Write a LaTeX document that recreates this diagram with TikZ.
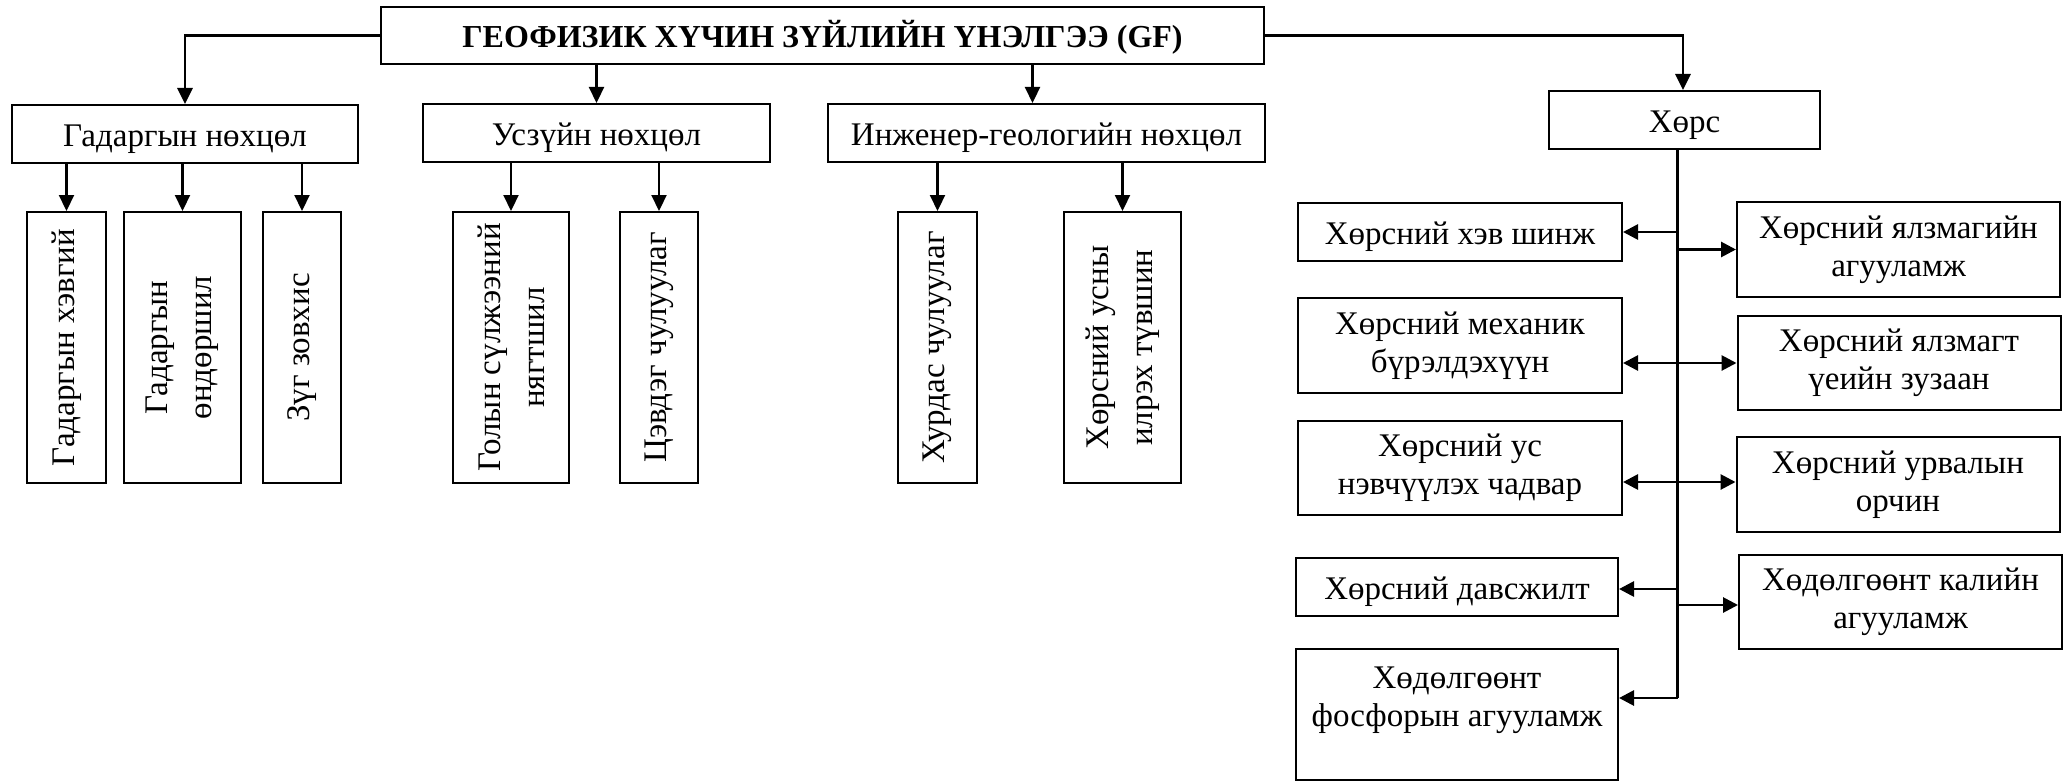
\documentclass[tikz,border=0pt]{standalone}
\usepackage{fontspec}
\setmainfont{Liberation Serif}
\usetikzlibrary{arrows.meta,calc}
\begin{document}
\begin{tikzpicture}[x=0.5pt,y=-0.5pt,
  box/.style={draw,line width=1pt,inner sep=0pt,align=center,font=\fontsize{16.5}{19}\selectfont},
  one/.style={text height=12.4pt,text depth=0pt},
  vbox/.style={draw,line width=1pt,inner sep=0pt,minimum height=135.5pt},
  vtext/.style={rotate=90,align=center,font=\fontsize{16.5}{22}\selectfont},
  ptext/.style={align=center,font=\fontsize{16.5}{19}\selectfont},
  arr/.style={line width=1.1pt,-{Triangle[length=8pt,width=7.5pt]}},
  sarr/.style={line width=1.4pt,-{Triangle[length=7.5pt,width=7.5pt]}},
  tarr/.style={line width=1.4pt,-{Triangle[length=8pt,width=7.5pt]}}]

\useasboundingbox (0,0) rectangle (2071,781);

% title
\node[box,one,minimum width=441.5pt,minimum height=28.5pt,font=\bfseries\fontsize{16}{19}\selectfont] (title) at (822.5,35.5) {ГЕОФИЗИК ХҮЧИН ЗҮЙЛИЙН ҮНЭЛГЭЭ (GF)};

% level 1
\node[box,one,minimum width=173pt,minimum height=29pt] (g) at (185,134) {Гадаргын нөхцөл};
\node[box,one,minimum width=173.5pt,minimum height=29pt] (u) at (596.5,133) {Усзүйн нөхцөл};
\node[box,one,minimum width=218.5pt,minimum height=29pt] (i) at (1046.5,133) {Инженер-геологийн нөхцөл};
\node[box,one,minimum width=135.5pt,minimum height=29pt] (x) at (1684.5,120) {Хөрс};

% title connectors
\draw[tarr] (title.west) -| (g.north);
\draw[arr] (u.north |- title.south) -- (u.north);
\coordinate (ia) at ([xshift=-7pt]i.north);
\draw[arr] (ia |- title.south) -- (ia);
\draw[tarr] (title.east) -| ([xshift=-0.75pt]x.north);

% vertical boxes
\node[vbox,minimum width=39.5pt] (a1) at (66.5,347.5) {};
\node[vtext] (a1t) at (a1) {Гадаргын хэвгий};
\node[vbox,minimum width=58.5pt] (a2) at (182.5,347.5) {};
\node[vtext] (a2t) at (a2) {Гадаргын\\өндөршил};
\node[vbox,minimum width=39pt] (a3) at (302,347.5) {};
\node[vtext] (a3t) at (a3) {Зүг зовхис};

\node[vbox,minimum width=58pt] (b1) at (511,347.5) {};
\node[vtext] (b1t) at (b1) {Голын сүлжээний\\нягтшил};
\node[vbox,minimum width=39pt] (b2) at (659,347.5) {};
\node[vtext] (b2t) at (b2) {Цэвдэг чулуулаг};

\node[vbox,minimum width=39.5pt] (c1) at (937.5,347.5) {};
\node[vtext] (c1t) at (c1) {Хурдас чулуулаг};
\node[vbox,minimum width=58.5pt] (c2) at (1122.5,347.5) {};
\node[vtext] (c2t) at (c2) {Хөрсний усны\\илрэх түвшин};

\draw[arr] (a1.north |- g.south) -- (a1.north);
\draw[arr] (a2.north |- g.south) -- (a2.north);
\draw[arr] (a3.north |- g.south) -- (a3.north);
\draw[arr] (b1.north |- u.south) -- (b1.north);
\draw[arr] (b2.north |- u.south) -- (b2.north);
\draw[arr] (c1.north |- i.south) -- (c1.north);
\draw[arr] (c2.north |- i.south) -- (c2.north);

% soil branch
\node[box,one,minimum width=162pt,minimum height=29pt] (r1) at (1460,232) {Хөрсний хэв шинж};
\node[box,minimum width=162pt,minimum height=47.5pt] (r3) at (1460,345.5) {Хөрсний механик\\бүрэлдэхүүн};
\node[box,minimum width=162pt,minimum height=47pt] (r5) at (1460,468) {Хөрсний ус\\нэвчүүлэх чадвар};
\node[box,one,minimum width=161pt,minimum height=29pt] (r7) at (1457,587) {Хөрсний давсжилт};
\node[box,minimum width=161pt,minimum height=65.5pt] (r9) at (1457,714.5) {};
\node[ptext] (r9t) at (1457,700) {Хөдөлгөөнт\\фосфорын агууламж};

\node[box,minimum width=161.5pt,minimum height=47.5pt] (r2) at (1898.5,249.5) {Хөрсний ялзмагийн\\агууламж};
\node[box,minimum width=161.5pt,minimum height=47pt] (r4) at (1899,363) {Хөрсний ялзмагт\\үеийн зузаан};
\node[box,minimum width=161.5pt,minimum height=47.5pt] (r6) at (1898,484.5) {Хөрсний урвалын\\орчин};
\node[box,minimum width=161.5pt,minimum height=47pt] (r8) at (1900.5,602) {Хөдөлгөөнт калийн\\агууламж};

\coordinate (tt) at ([xshift=-3.5pt]x.south);
\coordinate (r1a) at (r1.east);
\coordinate (r2a) at (r2.west);
\coordinate (r3a) at ([yshift=-8.75pt]r3.east);
\coordinate (r4a) at (r4.west);
\coordinate (r5a) at ([yshift=-7pt]r5.east);
\coordinate (r6a) at ([yshift=1.25pt]r6.west);
\coordinate (r7a) at ([yshift=-1pt]r7.east);
\coordinate (r8a) at ([yshift=-1.5pt]r8.west);
\coordinate (r9a) at ([yshift=8.25pt]r9.east);

\draw[line width=1.4pt] (tt) -- (tt |- r9a);
\foreach \k in {1,...,9} {
  \draw[sarr] (tt |- r\k a) -- (r\k a);
}
\end{tikzpicture}
\end{document}
